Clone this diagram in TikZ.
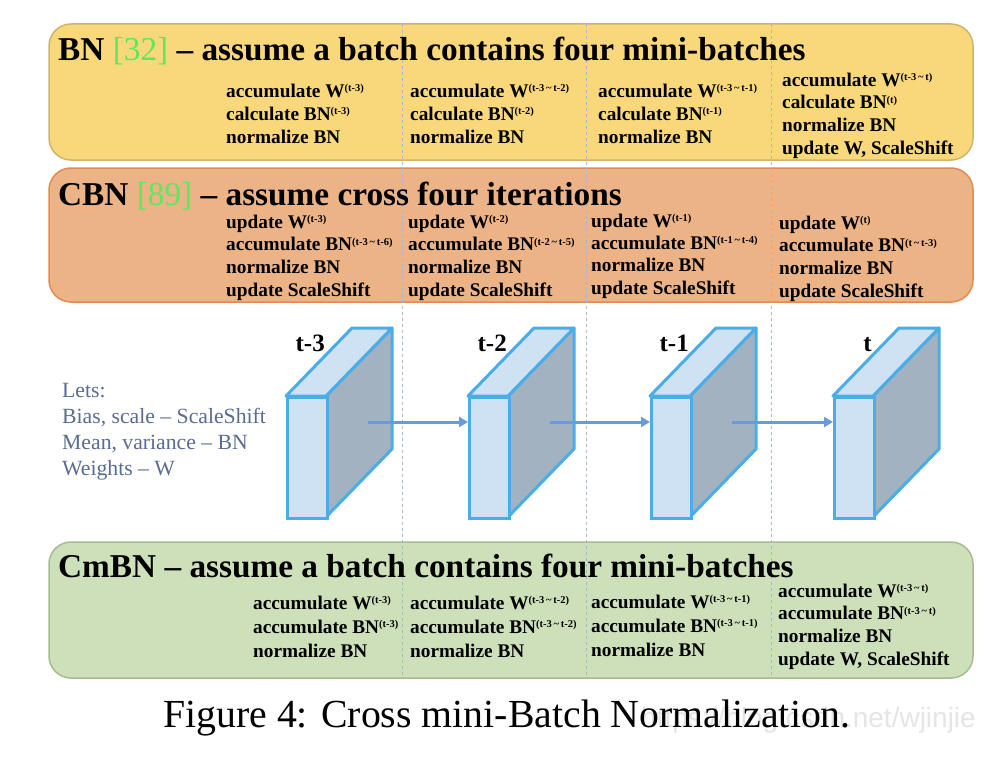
\documentclass[tikz,border=0pt]{standalone}
\usepackage{fontspec}
\setmainfont{Liberation Serif}
\setsansfont{Liberation Sans}
\usetikzlibrary{arrows.meta}
\definecolor{bnfill}{HTML}{F9D87B}
\definecolor{bnline}{HTML}{CDB56E}
\definecolor{cbnfill}{HTML}{ECB387}
\definecolor{cbnline}{HTML}{E28A52}
\definecolor{cmfill}{HTML}{CDE0BA}
\definecolor{cmline}{HTML}{A3BC90}
\definecolor{refgreen}{HTML}{5EE85E}
\definecolor{cubeline}{HTML}{4AADE8}
\definecolor{cubelight}{HTML}{CFE2F3}
\definecolor{cubedark}{HTML}{A2B2C0}
\definecolor{arrowblue}{HTML}{6A9BD8}
\definecolor{legendc}{HTML}{5A6C90}
\definecolor{sepc}{HTML}{A8B8CC}
\newcommand\sups[1]{\raisebox{5.5pt}{\fontsize{10.5}{10.5}\selectfont(#1)}}
\newcommand\tld{\,\textasciitilde\,}
\newcommand\colblock[5]{\foreach \t [count=\i] in {#5} {\node[cell] (#1-\i) at (#2,{#3+#4*(\i-1)}) {\t};}}
\tikzset{
  cell/.style={anchor=base west, inner sep=0pt, font=\fontsize{19.3}{23}\selectfont\bfseries},
  titletext/.style={anchor=base west, inner sep=0pt, font=\fontsize{33.3}{36}\selectfont\bfseries},
  panel/.style={rounded corners=22pt, line width=1.5pt},
  sepline/.style={sepc, line width=0.9pt, dash pattern=on 3pt off 3pt},
  face/.style={draw=cubeline, line width=3pt, line join=round},
  frontface/.style={draw=cubeline, line width=3pt, fill=cubelight, minimum width=40pt, minimum height=121pt, inner sep=0pt, anchor=north west},
  cubelabel/.style={anchor=base east, inner sep=0pt, font=\fontsize{25}{28}\selectfont\bfseries},
  arr/.style={arrowblue, line width=3pt, -{Triangle[length=9pt,width=10pt]}},
  legend/.style={anchor=base west, inner sep=0pt, text=legendc, font=\fontsize{21.7}{26}\selectfont},
}
\begin{document}
\begin{tikzpicture}[x=1pt,y=-1pt]
\useasboundingbox (0,0) rectangle (996,768);
\fill[white] (0,0) rectangle (996,768);
% panels
\draw[panel, fill=bnfill, draw=bnline] (49,24) rectangle (973,160);
\draw[panel, fill=cbnfill, draw=cbnline] (49,168) rectangle (973,302);
\draw[panel, fill=cmfill, draw=cmline] (49,542) rectangle (973,678);
\foreach \x in {402,586,771} \draw[sepline] (\x,24) -- (\x,678);
% titles
\node[titletext] (bnt) at (58,61) {BN {\mdseries\color{refgreen}[32]} -- assume a batch contains four mini-batches};
\node[titletext] (cbnt) at (58,205) {CBN {\mdseries\color{refgreen}[89]} -- assume cross four iterations};
\node[titletext] (cmt) at (58,577) {CmBN -- assume a batch contains four mini-batches};
% BN cells
\colblock{bna}{226}{97}{23}{{accumulate W\sups{t-3}},{calculate BN\sups{t-3}},{normalize BN}}
\colblock{bnb}{410}{97}{23}{{accumulate W\sups{t-3\tld t-2}},{calculate BN\sups{t-2}},{normalize BN}}
\colblock{bnc}{598}{97}{23}{{accumulate W\sups{t-3\tld t-1}},{calculate BN\sups{t-1}},{normalize BN}}
\colblock{bnd}{782}{86}{22.7}{{accumulate W\sups{t-3\tld t}},{calculate BN\sups{t}},{normalize BN},{update W, ScaleShift}}
% CBN cells
\colblock{cba}{226}{228}{22.7}{{update W\sups{t-3}},{accumulate BN\sups{t-3\tld t-6}},{normalize BN},{update ScaleShift}}
\colblock{cbb}{408}{228}{22.7}{{update W\sups{t-2}},{accumulate BN\sups{t-2\tld t-5}},{normalize BN},{update ScaleShift}}
\colblock{cbc}{591}{227}{22.4}{{update W\sups{t-1}},{accumulate BN\sups{t-1\tld t-4}},{normalize BN},{update ScaleShift}}
\colblock{cbd}{779}{229}{22.7}{{update W\sups{t}},{accumulate BN\sups{t\tld t-3}},{normalize BN},{update ScaleShift}}
% CmBN cells
\colblock{cma}{253}{609}{24}{{accumulate W\sups{t-3}},{accumulate BN\sups{t-3}},{normalize BN}}
\colblock{cmb}{410}{609}{24}{{accumulate W\sups{t-3\tld t-2}},{accumulate BN\sups{t-3\tld t-2}},{normalize BN}}
\colblock{cmc}{591}{608}{24}{{accumulate W\sups{t-3\tld t-1}},{accumulate BN\sups{t-3\tld t-1}},{normalize BN}}
\colblock{cmd}{778}{597}{22.7}{{accumulate W\sups{t-3\tld t}},{accumulate BN\sups{t-3\tld t}},{normalize BN},{update W, ScaleShift}}
% cubes
\foreach \X/\n/\lab in {286/1/t-3,468/2/t-2,650/3/t-1,833/4/t} {
  \draw[face, fill=cubedark] (\X+40,396) -- (\X+106,328) -- (\X+106,449) -- (\X+40,517) -- cycle;
  \draw[face, fill=cubelight] (\X,396) -- (\X+66,328) -- (\X+106,328) -- (\X+40,396) -- cycle;
  \node[frontface] (f\n) at (\X,396) {};
  \node[cubelabel] (l\n) at (\X+39,351) {\lab};
  \coordinate (s\n) at (\X+82,422);
}
\draw[arr] (s1) -- (s1 -| f2.west);
\draw[arr] (s2) -- (s2 -| f3.west);
\draw[arr] (s3) -- (s3 -| f4.west);
% legend
\node[legend] (lg1) at (62,397) {Lets:};
\node[legend] (lg2) at (62,423) {Bias, scale -- ScaleShift};
\node[legend] (lg3) at (62,449) {Mean, variance -- BN};
\node[legend] (lg4) at (62,475) {Weights -- W};
% caption
\node[anchor=base east, inner sep=0pt, font=\sffamily\fontsize{28}{30}\selectfont, text=gray!20] (wm) at (976,727) {https://blog.csdn.net/wjinjie};
\node[anchor=base west, inner sep=0pt, font=\fontsize{39.8}{44}\selectfont] (cap) at (163,727) {Figure 4: Cross mini-Batch Normalization.};
\end{tikzpicture}
\end{document}
